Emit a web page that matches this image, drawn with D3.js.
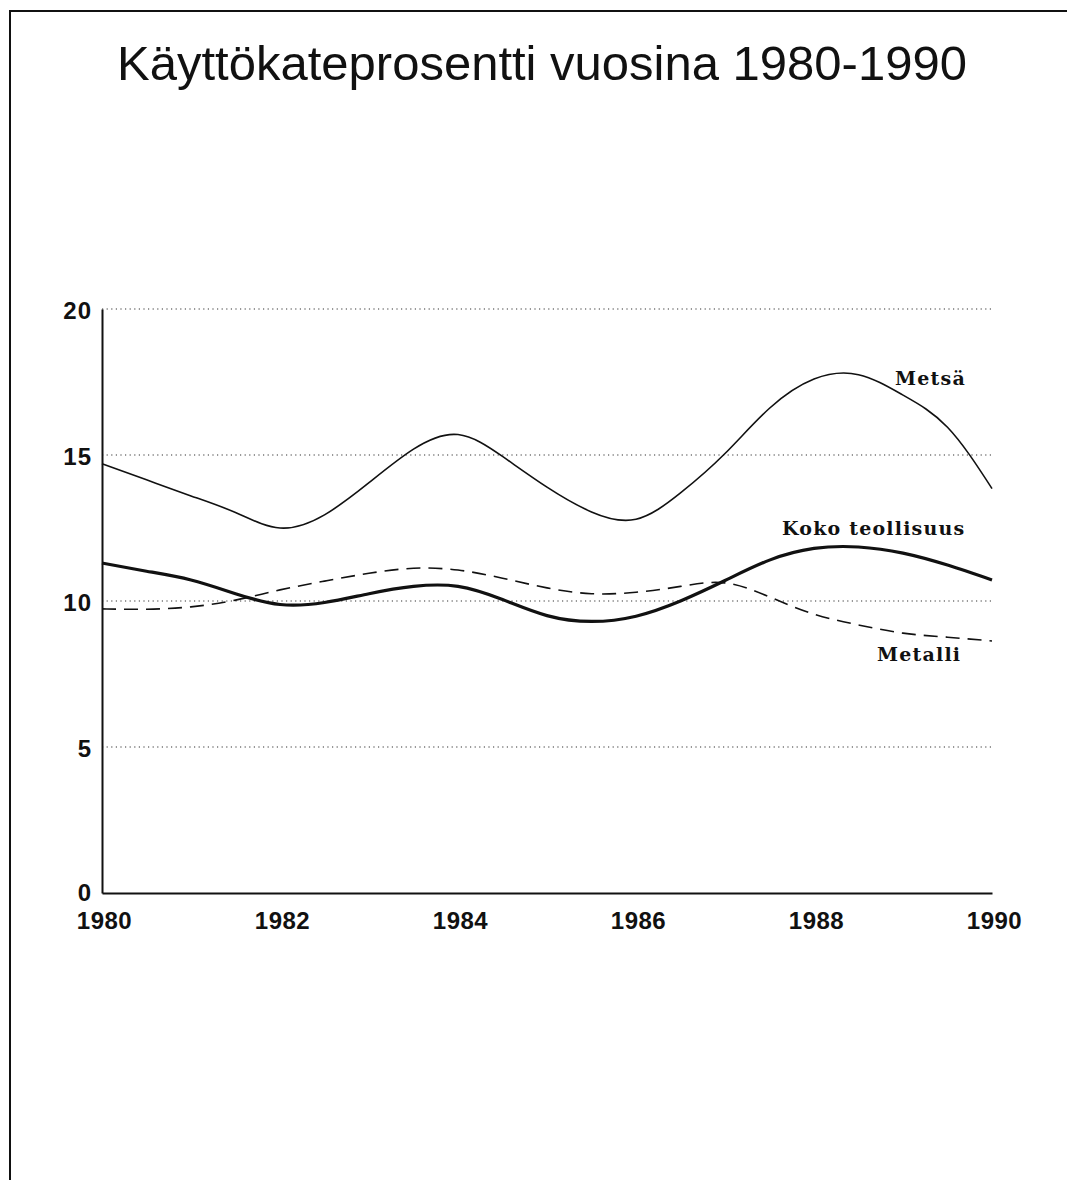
<!DOCTYPE html>
<html><head><meta charset="utf-8">
<script src="https://cdn.jsdelivr.net/npm/d3@7"></script>
<style>body{margin:0;background:#fff}</style>
</head><body>
<script>
const title = "Käyttökateprosentti vuosina 1980-1990";
const xTicks = [1980, 1982, 1984, 1986, 1988, 1990];
const yTicks = [0, 5, 10, 15, 20];
const years = [1980,1980.5,1981,1981.5,1982,1982.5,1983,1983.5,1984,1984.5,1985,1985.5,1986,1986.5,1987,1987.5,1988,1988.5,1989,1989.5,1990];
const metsa = [14.7,14.15,13.6,13.03,12.5,12.95,14.05,15.2,15.7,14.95,13.9,13.05,12.8,13.7,15.05,16.6,17.6,17.75,17.05,15.95,13.85];
const koko = [11.3,11.02,10.72,10.25,9.88,9.95,10.25,10.5,10.5,10.05,9.5,9.3,9.48,10.0,10.7,11.4,11.8,11.85,11.64,11.23,10.72];
const metalli = [9.73,9.72,9.8,10.03,10.38,10.68,10.95,11.12,11.06,10.78,10.45,10.25,10.3,10.5,10.62,10.14,9.55,9.18,8.9,8.76,8.63];
const seriesNames = ["Metsä", "Koko teollisuus", "Metalli"];

const W = 1067, H = 1180;
const svg = d3.select("body").append("svg").attr("width", W).attr("height", H);
svg.append("path").attr("d", "M10,1181V11H1068").attr("fill","none").attr("stroke","#111").attr("stroke-width",2);

svg.append("text").attr("x", 542).attr("y", 80).attr("text-anchor","middle")
  .attr("font-family","Liberation Sans, Arial, sans-serif").attr("font-size", 49)
  .attr("fill","#111").text(title);

const x = d3.scaleLinear().domain([1980,1990]).range([102,992]);
const y = d3.scaleLinear().domain([0,20]).range([893,309]);

// gridlines
svg.append("g").selectAll("line").data(yTicks.filter(d=>d>0)).join("line")
  .attr("x1", x(1980)).attr("x2", x(1990)).attr("y1", d=>y(d)).attr("y2", d=>y(d))
  .attr("stroke","#333").attr("stroke-width",1.2).attr("stroke-dasharray","1.2,3.4");

// axes
const yAxis = d3.axisLeft(y).tickValues(yTicks).tickSize(0).tickPadding(10).tickFormat(d3.format("d"));
const gy = svg.append("g").attr("transform",`translate(${x(1980)},0)`).call(yAxis);
gy.select(".domain").attr("stroke","#111").attr("stroke-width",2);
gy.selectAll("text").attr("font-family","Liberation Sans, Arial, sans-serif").attr("font-weight","bold")
  .attr("font-size",24).attr("fill","#111").attr("letter-spacing",1)
  .attr("dy", d=> d===0 ? "0.3em" : "0.38em");
const xAxis = d3.axisBottom(x).tickValues(xTicks).tickSize(0).tickPadding(19).tickFormat(d3.format("d"));
const gx = svg.append("g").attr("transform",`translate(0,${y(0)})`).call(xAxis);
gx.select(".domain").attr("stroke","#111").attr("stroke-width",2);
gx.selectAll("text").attr("font-family","Liberation Sans, Arial, sans-serif").attr("font-weight","bold")
  .attr("font-size",24).attr("fill","#111").attr("letter-spacing",0.5).attr("dx", 2);

const line = d3.line().x((d,i)=>x(years[i])).y(d=>y(d)).curve(d3.curveNatural);
svg.append("path").attr("d", line(metsa)).attr("fill","none").attr("stroke","#111").attr("stroke-width",1.6);
svg.append("path").attr("d", line(koko)).attr("fill","none").attr("stroke","#111").attr("stroke-width",3.2);
svg.append("path").attr("d", line(metalli)).attr("fill","none").attr("stroke","#111").attr("stroke-width",1.6).attr("stroke-dasharray","14,8");

const lab = [
  {t: seriesNames[0], x: 895, y: 385},
  {t: seriesNames[1], x: 782, y: 535},
  {t: seriesNames[2], x: 877, y: 661}
];
svg.append("g").selectAll("text").data(lab).join("text")
  .attr("x", d=>d.x).attr("y", d=>d.y)
  .attr("font-family","DejaVu Serif, serif").attr("font-weight","bold").attr("font-size",19)
  .attr("letter-spacing",1.2).attr("fill","#111").text(d=>d.t);
</script>
</body></html>
